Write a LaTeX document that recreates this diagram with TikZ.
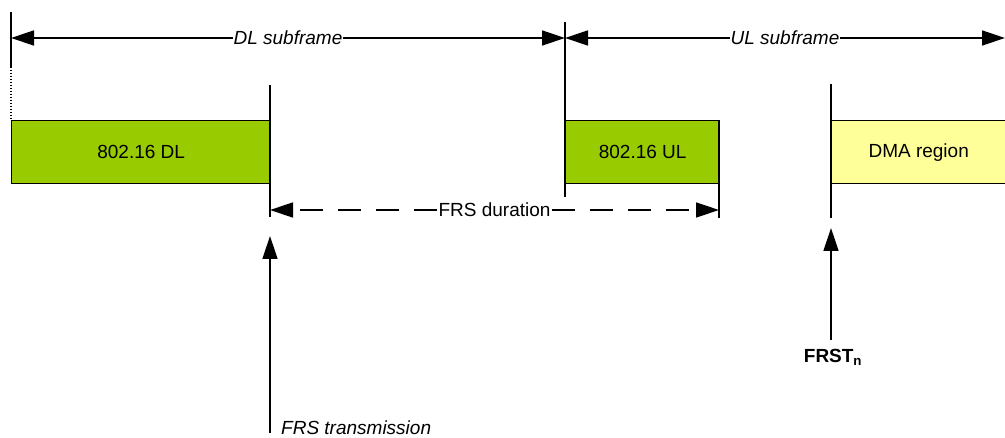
\documentclass[tikz,border=0pt]{standalone}
\usepackage{fontspec}
\setmainfont{Liberation Sans}
\usetikzlibrary{arrows.meta,calc}
\definecolor{dlgreen}{HTML}{99CC00}
\definecolor{dmayellow}{HTML}{FFFF99}
\begin{document}
\begin{tikzpicture}[x=1pt,y=-1pt,
  every node/.style={font=\fontsize{19}{22}\selectfont},
  line/.style={line width=1.4pt, black},
  tip/.style={-{Triangle[length=23pt,width=15pt]}},
  tips/.style={{Triangle[length=23pt,width=15pt]}-{Triangle[length=23pt,width=15pt]}},
  block/.style={draw, line width=1.4pt, anchor=north west, inner sep=0pt, minimum height=63pt},
  lbl/.style={fill=white, inner sep=1pt},
  ilbl/.style={fill=white, inner sep=1pt, font=\fontsize{19}{22}\selectfont\itshape}]
\useasboundingbox (0,0) rectangle (1005,438);
% boxes
\node[block, fill=dlgreen, minimum width=259pt] (dl) at (11,120) {};
\node at (dl.center) {802.16 DL};
\node[block, fill=dmayellow, minimum width=180pt] (dma) at (831,120) {};
\node[block, fill=dlgreen, minimum width=154pt] (ul) at (565,120) {};
\node at (ul.center) {802.16 UL};
\node (dmat) at ($(dma.center)+(-3,0)$) {DMA region};
% vertical markers
\coordinate (l0) at (11,12);
\coordinate (l1) at (11,67);
\coordinate (l2) at (11,120);
\draw[line] (l0) -- (l1);
\draw[line, line width=1.2pt, dash pattern=on 1.5pt off 1.5pt] (l1) -- (l2);
\coordinate (m0) at (565,22);
\coordinate (m1) at (565,197);
\draw[line] (m0) -- (m1);
\coordinate (a0) at (270,85);
\coordinate (a1) at (270,217);
\draw[line] (a0) -- (a1);
\coordinate (b0) at (719,120);
\coordinate (b1) at (719,218);
\draw[line] (b0) -- (b1);
\coordinate (c0) at (831,84);
\coordinate (c1) at (831,218);
\draw[line] (c0) -- (c1);
% top subframe arrows
\coordinate (t0) at (11,38);
\coordinate (t1) at (565,38);
\coordinate (t2) at (1005,38);
\draw[line, tips] (t0) -- (t1) node[ilbl, midway] (dls) {DL subframe};
\draw[line, tips] (t1) -- (t2) node[ilbl, midway] (uls) {UL subframe};
% FRS duration
\coordinate (fa) at (270,210);
\coordinate (fb) at (719,210);
\node[lbl] (fd) at ($(fa)!0.5!(fb)$) {FRS duration};
\draw[line, tip, dash pattern=on 23pt off 15pt] (fd.west) -- (fa);
\draw[line, tip, dash pattern=on 23pt off 15pt] (fd.east) -- (fb);
% FRS transmission
\coordinate (x0) at (270,433);
\coordinate (x1) at (270,236);
\draw[line, tip] (x0) -- (x1);
\node[anchor=base west, inner sep=0pt, font=\fontsize{19}{22}\selectfont\itshape] (frst) at (281,435) {FRS transmission};
% FRST_n
\coordinate (y0) at (831,340);
\coordinate (y1) at (831,228);
\draw[line, tip] (y0) -- (y1);
\node[anchor=base, inner sep=0pt, font=\fontsize{19}{22}\selectfont\bfseries] (frstn) at (833,363) {FRST\textsubscript{n}};
\end{tikzpicture}
\end{document}
